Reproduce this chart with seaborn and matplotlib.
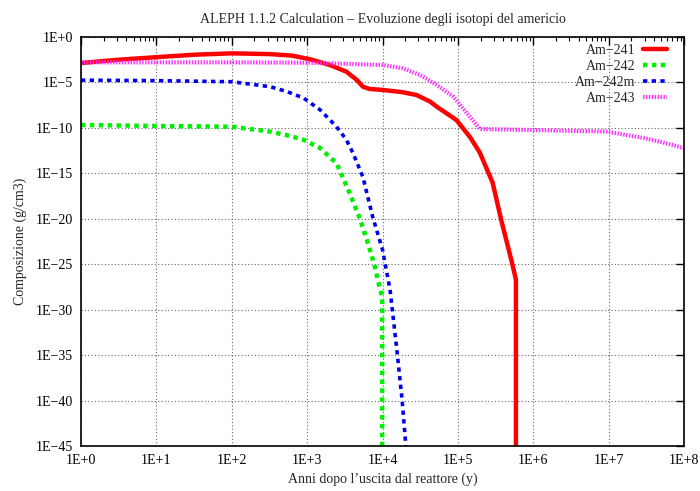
import numpy as np
import pandas as pd
import matplotlib
matplotlib.use("Agg")
import matplotlib.pyplot as plt
import seaborn as sns
from matplotlib.ticker import LogLocator, NullLocator, FixedLocator, FixedFormatter

# ---- data, as decimal exponents ----
# log10(years), log10(g/cm3)
am241_logx = [0, 0.5, 1.0, 1.5, 2.0, 2.5, 2.8, 3.04, 3.30, 3.52, 3.66, 3.74, 3.83, 4.01, 4.27,
              4.45, 4.63, 4.72, 4.98, 5.16, 5.29, 5.46, 5.58, 5.72, 5.77, 5.77]
am241_logy = [-2.86, -2.5, -2.22, -1.95, -1.80, -1.88, -2.05, -2.45, -3.08, -3.81, -4.73, -5.47,
              -5.72, -5.83, -6.08, -6.38, -7.1, -7.67, -9.13, -11.0, -12.7, -16.0, -20.3, -24.9,
              -26.7, -50]

am242_logx = [0, 1.0, 2.0, 2.5, 2.73, 2.95, 3.17, 3.39, 3.45, 3.58, 3.70, 3.80, 3.89, 3.96,
              3.996, 3.996]
am242_logy = [-9.68, -9.79, -9.87, -10.4, -10.8, -11.3, -12.2, -13.9, -15.0, -17.5, -20.0,
              -22.5, -25.0, -27.5, -28.6, -50]

am242m_logx = [0, 1.0, 2.0, 2.51, 2.73, 2.95, 3.17, 3.39, 3.52, 3.61, 3.74, 3.87, 4.0, 4.10,
               4.19, 4.26, 4.31]
am242m_logy = [-4.75, -4.8, -4.92, -5.47, -6.0, -6.7, -8.0, -9.87, -11.3, -12.8, -15.4, -19.8,
               -23.4, -27.8, -34.4, -39.9, -45]

am243_logx = [0, 1, 2, 3.04, 4.01, 4.27, 4.50, 4.72, 4.94, 5.16, 5.29, 5.95, 6.97, 7.46, 7.72,
              7.99]
am243_logy = [-2.79, -2.79, -2.79, -2.83, -3.08, -3.45, -4.18, -5.28, -6.57, -8.77, -10.12,
              -10.23, -10.4, -11.1, -11.6, -12.2]

x_ticks = [1e0, 1e1, 1e2, 1e3, 1e4, 1e5, 1e6, 1e7, 1e8]
x_tick_labels = ["1E+0", "1E+1", "1E+2", "1E+3", "1E+4", "1E+5", "1E+6", "1E+7", "1E+8"]
y_ticks = [1e0, 1e-5, 1e-10, 1e-15, 1e-20, 1e-25, 1e-30, 1e-35, 1e-40, 1e-45]
y_tick_labels = ["1E+0", "1E\u22125", "1E\u221210", "1E\u221215", "1E\u221220", "1E\u221225",
                 "1E\u221230", "1E\u221235", "1E\u221240", "1E\u221245"]

title = "ALEPH 1.1.2 Calculation \u2013 Evoluzione degli isotopi del americio"
xlabel = "Anni dopo l\u2019uscita dal reattore (y)"
ylabel = "Composizione (g/cm3)"

series = [
    ("Am\u2212241", am241_logx, am241_logy, dict(color="#ff0000", lw=3.2, ls="-")),
    ("Am\u2212242", am242_logx, am242_logy, dict(color="#00ee00", lw=3.2, ls=(0, (1.0, 1.0)))),
    ("Am\u2212242m", am242m_logx, am242m_logy, dict(color="#0000ee", lw=2.6, ls=(0, (1.2, 1.2)))),
    ("Am\u2212243", am243_logx, am243_logy, dict(color="#ff33ff", lw=3.0, ls=(0, (0.35, 0.35)))),
]

sns.set_theme(style="white")
plt.rcParams["font.family"] = ["Liberation Serif", "DejaVu Serif"]
plt.rcParams["font.size"] = 10
plt.rcParams["lines.solid_joinstyle"] = "round"
plt.rcParams["lines.dash_joinstyle"] = "round"

fig = plt.figure(figsize=(7.0, 4.91), dpi=100)
ax = fig.add_axes([81 / 700, 45 / 491, 603 / 700, 409 / 491])

for name, lx, ly, st in series:
    df = pd.DataFrame({"x": np.power(10.0, lx), "y": np.power(10.0, ly)})
    sns.lineplot(data=df, x="x", y="y", ax=ax, label=name, color=st["color"],
                 linewidth=st["lw"], linestyle=st["ls"], sort=False, estimator=None)

ax.set_xscale("log")
ax.set_yscale("log")
ax.set_xlim(1, 1e8)
ax.set_ylim(1e-45, 1)

ax.xaxis.set_major_locator(FixedLocator(x_ticks))
ax.xaxis.set_major_formatter(FixedFormatter(x_tick_labels))
ax.xaxis.set_minor_locator(LogLocator(base=10, subs=np.arange(2, 10), numticks=100))
ax.yaxis.set_major_locator(FixedLocator(y_ticks))
ax.yaxis.set_major_formatter(FixedFormatter(y_tick_labels))
ax.yaxis.set_minor_locator(NullLocator())

ax.tick_params(axis="both", which="both", direction="in", top=True, right=True,
               labelsize=10, colors="black", pad=6)
ax.tick_params(axis="both", which="major", length=6, width=1)
ax.tick_params(axis="both", which="minor", length=3, width=0.8)

ax.grid(True, which="major", linestyle=(0, (1, 2)), color="#666666", linewidth=0.8)
for sp in ax.spines.values():
    sp.set_color("black")
    sp.set_linewidth(1.2)

ax.set_title(title, fontsize=10, pad=10)
ax.set_xlabel(xlabel, fontsize=10, labelpad=4)
ax.set_ylabel(ylabel, fontsize=10, labelpad=6)

leg = ax.legend(loc="upper right", bbox_to_anchor=(0.981, 0.996), frameon=False, fontsize=10,
                markerfirst=False, handlelength=1.7, handletextpad=0.6, labelspacing=0.2,
                borderaxespad=0.0)

fig.savefig("out.png", dpi=100, facecolor="white")
